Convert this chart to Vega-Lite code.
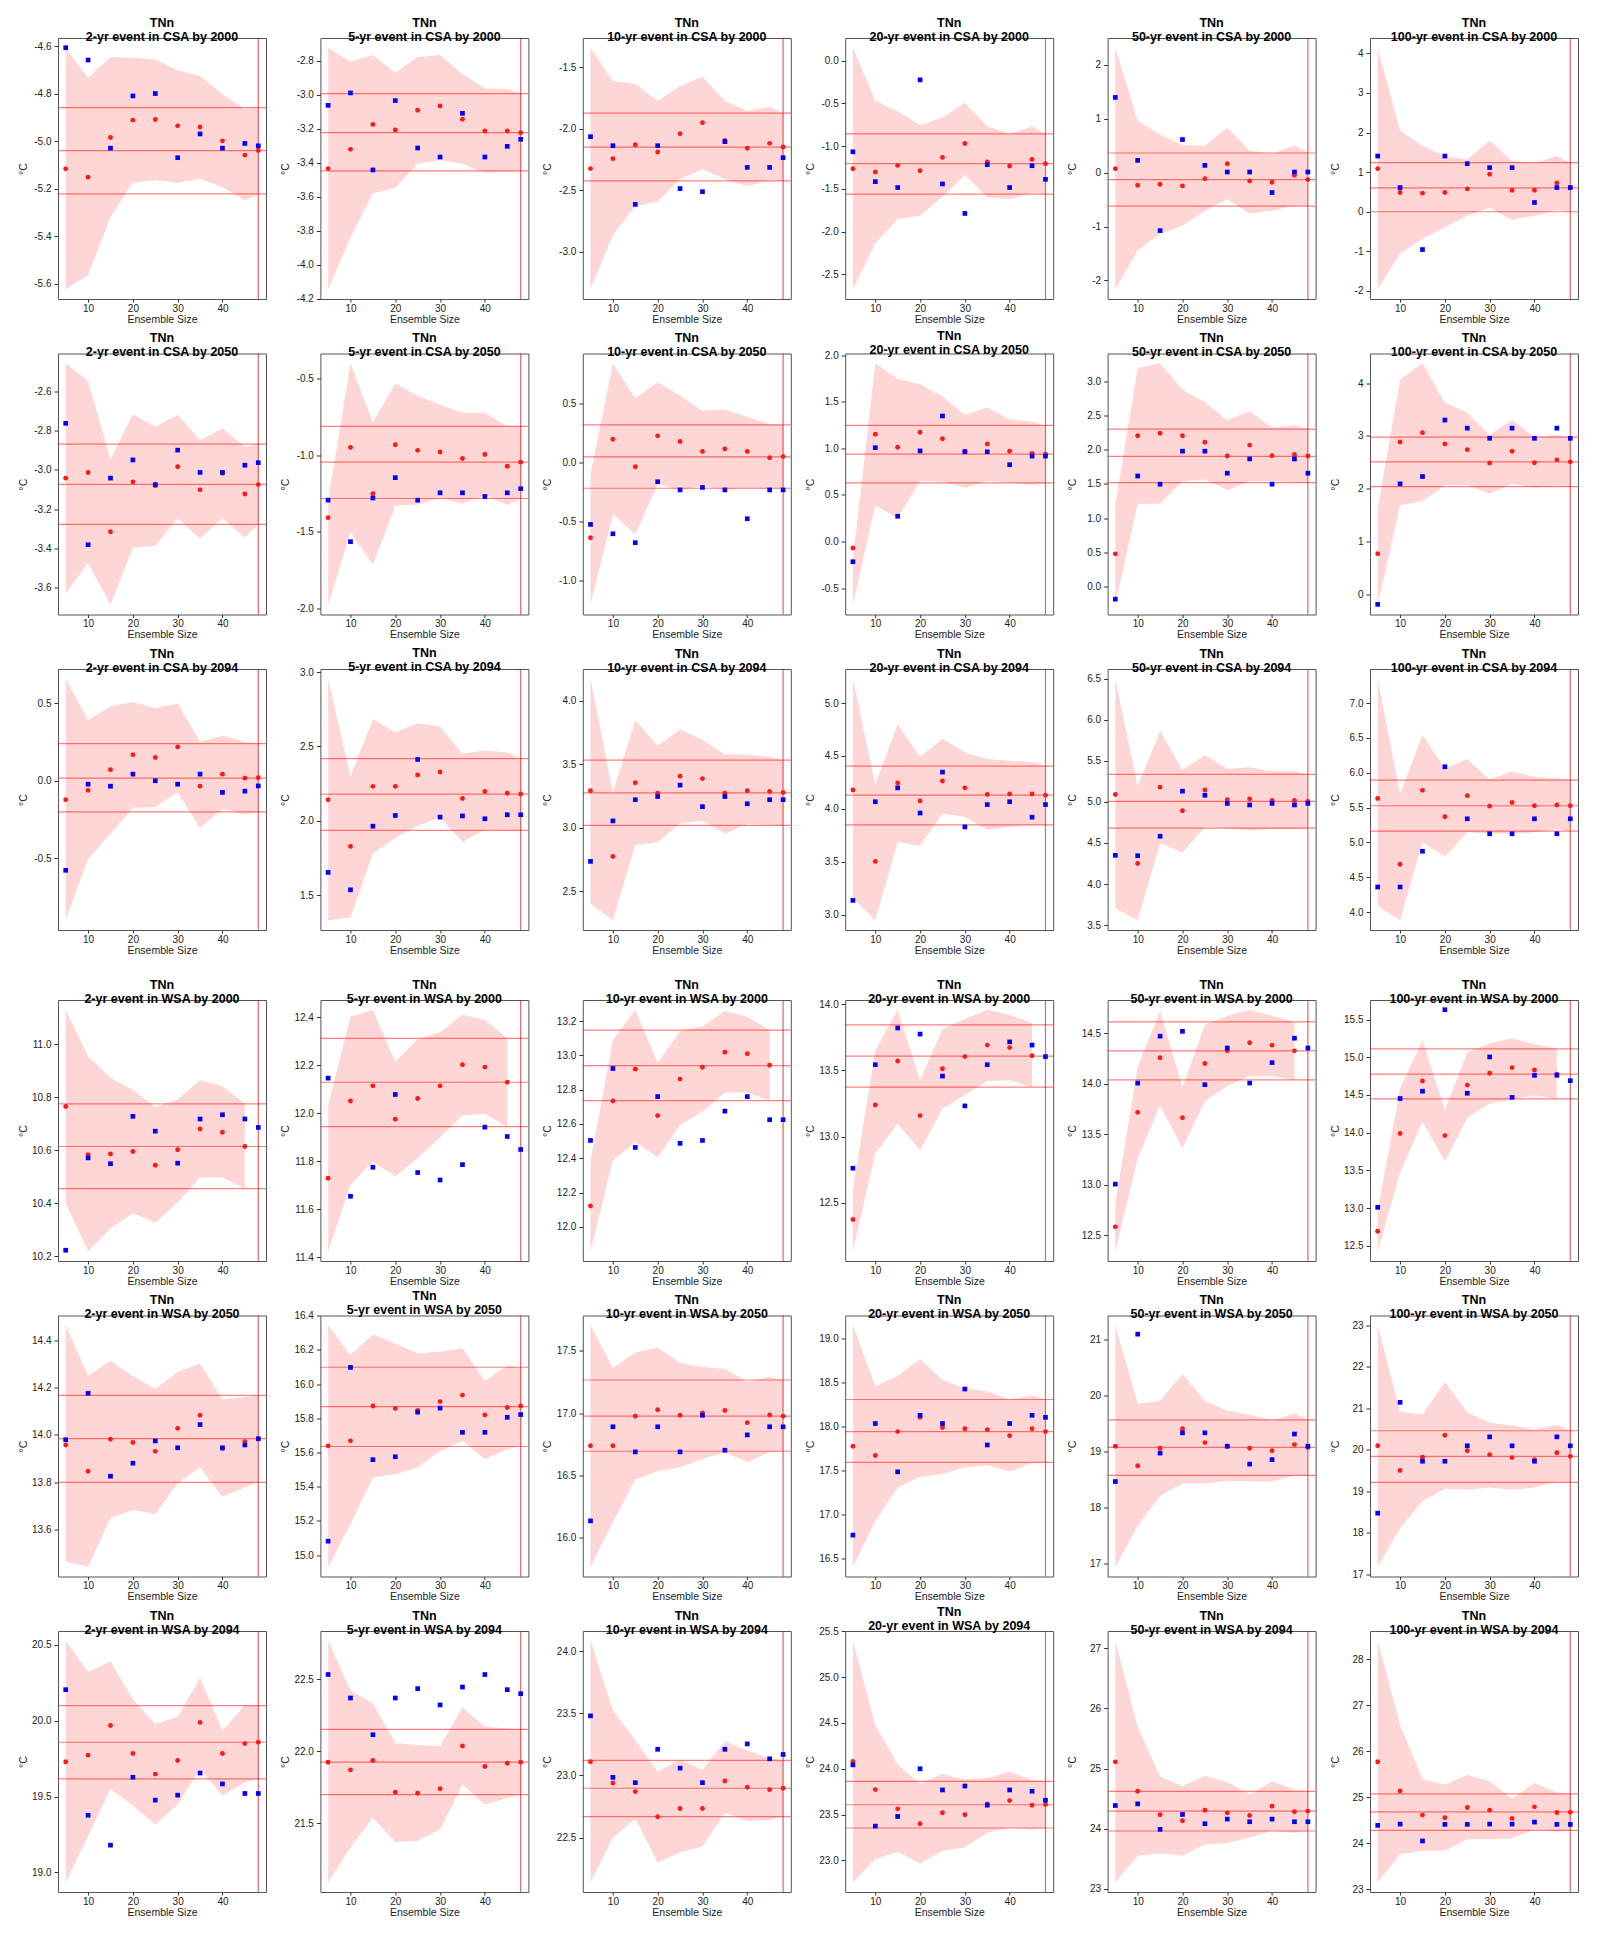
{
"$schema": "https://vega.github.io/schema/vega-lite/v6.json",
"background": "white",
"padding": {"left": 17, "top": 16, "right": 5, "bottom": 5},
"config": {
  "font": "Liberation Sans",
  "locale": {"number": {"decimal": ".", "thousands": ",", "grouping": [3], "currency": ["$", ""], "minus": "-"}},
  "view": {"stroke": "#555", "strokeWidth": 1},
  "axis": {"grid": false, "domain": false, "labelFont": "Liberation Sans", "labelFontSize": 10, "labelColor": "#222", "tickColor": "#333", "titleFont": "Liberation Sans", "titleFontSize": 10.5, "titleFontWeight": "normal", "titleColor": "#222"},
  "axisY": {"tickSize": 4, "labelPadding": 3, "minExtent": 30, "maxExtent": 30, "titlePadding": 0, "tickCount": 5.5},
  "axisX": {"tickSize": 3, "labelPadding": 1, "titlePadding": 1},
  "header": {"labelExpr": "['TNn', datum.value]", "labelFont": "Liberation Sans", "labelFontSize": 12.5, "labelFontWeight": "bold", "labelColor": "black", "labelLineHeight": 14, "labelBaseline": "top", "labelPadding": -6}
},
"datasets": {
"csa": [
{"t":"2-yr event in CSA by 2000","p":1,"x":5,"r":-5.117,"b":-4.607,"lo":-5.624,"hi":-4.61},
{"t":"2-yr event in CSA by 2000","p":1,"x":10,"r":-5.152,"b":-4.659,"lo":-5.565,"hi":-4.733},
{"t":"2-yr event in CSA by 2000","p":1,"x":15,"r":-4.985,"b":-5.03,"lo":-5.32,"hi":-4.646},
{"t":"2-yr event in CSA by 2000","p":1,"x":20,"r":-4.912,"b":-4.81,"lo":-5.175,"hi":-4.649},
{"t":"2-yr event in CSA by 2000","p":1,"x":25,"r":-4.909,"b":-4.80,"lo":-5.164,"hi":-4.656},
{"t":"2-yr event in CSA by 2000","p":1,"x":30,"r":-4.936,"b":-5.07,"lo":-5.175,"hi":-4.702},
{"t":"2-yr event in CSA by 2000","p":1,"x":35,"r":-4.941,"b":-4.97,"lo":-5.159,"hi":-4.726},
{"t":"2-yr event in CSA by 2000","p":1,"x":40,"r":-4.999,"b":-5.03,"lo":-5.194,"hi":-4.803},
{"t":"2-yr event in CSA by 2000","p":1,"x":45,"r":-5.059,"b":-5.01,"lo":-5.25,"hi":-4.866},
{"t":"2-yr event in CSA by 2000","p":1,"x":48,"r":-5.04,"b":-5.02,"lo":-5.222,"hi":-4.859},
{"t":"2-yr event in CSA by 2000","p":1,"hl":-5.222,"hm":-5.04,"hu":-4.859,"v":48},
{"t":"5-yr event in CSA by 2000","p":2,"x":5,"r":-3.433,"b":-3.061,"lo":-4.143,"hi":-2.722},
{"t":"5-yr event in CSA by 2000","p":2,"x":10,"r":-3.32,"b":-2.988,"lo":-3.839,"hi":-2.804},
{"t":"5-yr event in CSA by 2000","p":2,"x":15,"r":-3.173,"b":-3.441,"lo":-3.58,"hi":-2.765},
{"t":"5-yr event in CSA by 2000","p":2,"x":20,"r":-3.206,"b":-3.033,"lo":-3.545,"hi":-2.869},
{"t":"5-yr event in CSA by 2000","p":2,"x":25,"r":-3.09,"b":-3.312,"lo":-3.404,"hi":-2.776},
{"t":"5-yr event in CSA by 2000","p":2,"x":30,"r":-3.065,"b":-3.365,"lo":-3.384,"hi":-2.765},
{"t":"5-yr event in CSA by 2000","p":2,"x":35,"r":-3.143,"b":-3.108,"lo":-3.404,"hi":-2.878},
{"t":"5-yr event in CSA by 2000","p":2,"x":40,"r":-3.212,"b":-3.365,"lo":-3.457,"hi":-2.961},
{"t":"5-yr event in CSA by 2000","p":2,"x":45,"r":-3.212,"b":-3.302,"lo":-3.451,"hi":-2.967},
{"t":"5-yr event in CSA by 2000","p":2,"x":48,"r":-3.222,"b":-3.261,"lo":-3.447,"hi":-2.992},
{"t":"5-yr event in CSA by 2000","p":2,"hl":-3.447,"hm":-3.222,"hu":-2.992,"v":48},
{"t":"10-yr event in CSA by 2000","p":3,"x":5,"r":-2.324,"b":-2.065,"lo":-3.303,"hi":-1.343},
{"t":"10-yr event in CSA by 2000","p":3,"x":10,"r":-2.243,"b":-2.138,"lo":-2.862,"hi":-1.614},
{"t":"10-yr event in CSA by 2000","p":3,"x":15,"r":-2.13,"b":-2.614,"lo":-2.627,"hi":-1.635},
{"t":"10-yr event in CSA by 2000","p":3,"x":20,"r":-2.189,"b":-2.138,"lo":-2.592,"hi":-1.776},
{"t":"10-yr event in CSA by 2000","p":3,"x":25,"r":-2.041,"b":-2.486,"lo":-2.411,"hi":-1.654},
{"t":"10-yr event in CSA by 2000","p":3,"x":30,"r":-1.951,"b":-2.511,"lo":-2.33,"hi":-1.578},
{"t":"10-yr event in CSA by 2000","p":3,"x":35,"r":-2.095,"b":-2.105,"lo":-2.411,"hi":-1.776},
{"t":"10-yr event in CSA by 2000","p":3,"x":40,"r":-2.159,"b":-2.314,"lo":-2.465,"hi":-1.857},
{"t":"10-yr event in CSA by 2000","p":3,"x":45,"r":-2.119,"b":-2.314,"lo":-2.419,"hi":-1.822},
{"t":"10-yr event in CSA by 2000","p":3,"x":48,"r":-2.149,"b":-2.235,"lo":-2.424,"hi":-1.873},
{"t":"10-yr event in CSA by 2000","p":3,"hl":-2.424,"hm":-2.149,"hu":-1.873,"v":48},
{"t":"20-yr event in CSA by 2000","p":4,"x":5,"r":-1.264,"b":-1.066,"lo":-2.674,"hi":0.151},
{"t":"20-yr event in CSA by 2000","p":4,"x":10,"r":-1.302,"b":-1.415,"lo":-2.136,"hi":-0.469},
{"t":"20-yr event in CSA by 2000","p":4,"x":15,"r":-1.225,"b":-1.484,"lo":-1.853,"hi":-0.593},
{"t":"20-yr event in CSA by 2000","p":4,"x":20,"r":-1.287,"b":-0.225,"lo":-1.814,"hi":-0.756},
{"t":"20-yr event in CSA by 2000","p":4,"x":25,"r":-1.132,"b":-1.442,"lo":-1.593,"hi":-0.663},
{"t":"20-yr event in CSA by 2000","p":4,"x":30,"r":-0.969,"b":-1.787,"lo":-1.337,"hi":-0.496},
{"t":"20-yr event in CSA by 2000","p":4,"x":35,"r":-1.186,"b":-1.217,"lo":-1.601,"hi":-0.767},
{"t":"20-yr event in CSA by 2000","p":4,"x":40,"r":-1.233,"b":-1.484,"lo":-1.62,"hi":-0.857},
{"t":"20-yr event in CSA by 2000","p":4,"x":45,"r":-1.155,"b":-1.229,"lo":-1.543,"hi":-0.767},
{"t":"20-yr event in CSA by 2000","p":4,"x":48,"r":-1.205,"b":-1.388,"lo":-1.562,"hi":-0.857},
{"t":"20-yr event in CSA by 2000","p":4,"hl":-1.562,"hm":-1.205,"hu":-0.857,"v":48},
{"t":"50-yr event in CSA by 2000","p":5,"x":5,"r":0.074,"b":1.397,"lo":-2.166,"hi":2.32},
{"t":"50-yr event in CSA by 2000","p":5,"x":10,"r":-0.234,"b":0.228,"lo":-1.446,"hi":0.966},
{"t":"50-yr event in CSA by 2000","p":5,"x":15,"r":-0.215,"b":-1.077,"lo":-1.138,"hi":0.708},
{"t":"50-yr event in CSA by 2000","p":5,"x":20,"r":-0.246,"b":0.615,"lo":-0.985,"hi":0.511},
{"t":"50-yr event in CSA by 2000","p":5,"x":25,"r":-0.111,"b":0.135,"lo":-0.708,"hi":0.505},
{"t":"50-yr event in CSA by 2000","p":5,"x":30,"r":0.166,"b":0.012,"lo":-0.492,"hi":0.831},
{"t":"50-yr event in CSA by 2000","p":5,"x":35,"r":-0.154,"b":0.012,"lo":-0.757,"hi":0.412},
{"t":"50-yr event in CSA by 2000","p":5,"x":40,"r":-0.178,"b":-0.369,"lo":-0.708,"hi":0.351},
{"t":"50-yr event in CSA by 2000","p":5,"x":45,"r":-0.049,"b":0.012,"lo":-0.615,"hi":0.511},
{"t":"50-yr event in CSA by 2000","p":5,"x":48,"r":-0.129,"b":0.012,"lo":-0.615,"hi":0.369},
{"t":"50-yr event in CSA by 2000","p":5,"hl":-0.62,"hm":-0.129,"hu":0.365,"v":48},
{"t":"100-yr event in CSA by 2000","p":6,"x":5,"r":1.088,"b":1.406,"lo":-1.958,"hi":4.142},
{"t":"100-yr event in CSA by 2000","p":6,"x":10,"r":0.485,"b":0.611,"lo":-1.063,"hi":2.05},
{"t":"100-yr event in CSA by 2000","p":6,"x":15,"r":0.469,"b":-0.954,"lo":-0.686,"hi":1.657},
{"t":"100-yr event in CSA by 2000","p":6,"x":20,"r":0.485,"b":1.406,"lo":-0.393,"hi":1.406},
{"t":"100-yr event in CSA by 2000","p":6,"x":25,"r":0.577,"b":1.213,"lo":-0.1,"hi":1.322},
{"t":"100-yr event in CSA by 2000","p":6,"x":30,"r":0.946,"b":1.113,"lo":0.109,"hi":1.8},
{"t":"100-yr event in CSA by 2000","p":6,"x":35,"r":0.544,"b":1.113,"lo":-0.209,"hi":1.28},
{"t":"100-yr event in CSA by 2000","p":6,"x":40,"r":0.544,"b":0.234,"lo":-0.1,"hi":1.222},
{"t":"100-yr event in CSA by 2000","p":6,"x":45,"r":0.728,"b":0.611,"lo":0.042,"hi":1.406},
{"t":"100-yr event in CSA by 2000","p":6,"x":48,"r":0.605,"b":0.611,"lo":0.0,"hi":1.238},
{"t":"100-yr event in CSA by 2000","p":6,"hl":0.0,"hm":0.605,"hu":1.238,"v":48},
{"t":"2-yr event in CSA by 2050","p":7,"x":5,"r":-3.042,"b":-2.762,"lo":-3.631,"hi":-2.455},
{"t":"2-yr event in CSA by 2050","p":7,"x":10,"r":-3.013,"b":-3.382,"lo":-3.476,"hi":-2.546},
{"t":"2-yr event in CSA by 2050","p":7,"x":15,"r":-3.316,"b":-3.042,"lo":-3.689,"hi":-2.946},
{"t":"2-yr event in CSA by 2050","p":7,"x":20,"r":-3.061,"b":-2.949,"lo":-3.397,"hi":-2.716},
{"t":"2-yr event in CSA by 2050","p":7,"x":25,"r":-3.081,"b":-3.075,"lo":-3.388,"hi":-2.78},
{"t":"2-yr event in CSA by 2050","p":7,"x":30,"r":-2.984,"b":-2.899,"lo":-3.247,"hi":-2.718},
{"t":"2-yr event in CSA by 2050","p":7,"x":35,"r":-3.102,"b":-3.013,"lo":-3.351,"hi":-2.849},
{"t":"2-yr event in CSA by 2050","p":7,"x":40,"r":-3.017,"b":-3.013,"lo":-3.247,"hi":-2.787},
{"t":"2-yr event in CSA by 2050","p":7,"x":45,"r":-3.123,"b":-2.976,"lo":-3.345,"hi":-2.884},
{"t":"2-yr event in CSA by 2050","p":7,"x":48,"r":-3.075,"b":-2.963,"lo":-3.278,"hi":-2.868},
{"t":"2-yr event in CSA by 2050","p":7,"hl":-3.278,"hm":-3.074,"hu":-2.868,"v":48},
{"t":"5-yr event in CSA by 2050","p":8,"x":5,"r":-1.407,"b":-1.293,"lo":-1.976,"hi":-1.29},
{"t":"5-yr event in CSA by 2050","p":8,"x":10,"r":-0.949,"b":-1.564,"lo":-1.503,"hi":-0.399},
{"t":"5-yr event in CSA by 2050","p":8,"x":15,"r":-1.25,"b":-1.279,"lo":-1.715,"hi":-0.785},
{"t":"5-yr event in CSA by 2050","p":8,"x":20,"r":-0.931,"b":-1.146,"lo":-1.33,"hi":-0.532},
{"t":"5-yr event in CSA by 2050","p":8,"x":25,"r":-0.968,"b":-1.293,"lo":-1.322,"hi":-0.612},
{"t":"5-yr event in CSA by 2050","p":8,"x":30,"r":-0.979,"b":-1.245,"lo":-1.277,"hi":-0.67},
{"t":"5-yr event in CSA by 2050","p":8,"x":35,"r":-1.021,"b":-1.245,"lo":-1.316,"hi":-0.723},
{"t":"5-yr event in CSA by 2050","p":8,"x":40,"r":-0.995,"b":-1.269,"lo":-1.263,"hi":-0.723},
{"t":"5-yr event in CSA by 2050","p":8,"x":45,"r":-1.072,"b":-1.245,"lo":-1.324,"hi":-0.811},
{"t":"5-yr event in CSA by 2050","p":8,"x":48,"r":-1.045,"b":-1.218,"lo":-1.282,"hi":-0.811},
{"t":"5-yr event in CSA by 2050","p":8,"hl":-1.282,"hm":-1.045,"hu":-0.811,"v":48},
{"t":"10-yr event in CSA by 2050","p":9,"x":5,"r":-0.637,"b":-0.524,"lo":-1.202,"hi":-0.096},
{"t":"10-yr event in CSA by 2050","p":9,"x":10,"r":0.195,"b":-0.603,"lo":-0.438,"hi":0.836},
{"t":"10-yr event in CSA by 2050","p":9,"x":15,"r":-0.038,"b":-0.678,"lo":-0.61,"hi":0.538},
{"t":"10-yr event in CSA by 2050","p":9,"x":20,"r":0.223,"b":-0.164,"lo":-0.182,"hi":0.675},
{"t":"10-yr event in CSA by 2050","p":9,"x":25,"r":0.175,"b":-0.233,"lo":-0.233,"hi":0.562},
{"t":"10-yr event in CSA by 2050","p":9,"x":30,"r":0.092,"b":-0.212,"lo":-0.199,"hi":0.435},
{"t":"10-yr event in CSA by 2050","p":9,"x":35,"r":0.113,"b":-0.233,"lo":-0.233,"hi":0.445},
{"t":"10-yr event in CSA by 2050","p":9,"x":40,"r":0.092,"b":-0.476,"lo":-0.216,"hi":0.384},
{"t":"10-yr event in CSA by 2050","p":9,"x":45,"r":0.038,"b":-0.233,"lo":-0.226,"hi":0.322},
{"t":"10-yr event in CSA by 2050","p":9,"x":48,"r":0.048,"b":-0.233,"lo":-0.216,"hi":0.315},
{"t":"10-yr event in CSA by 2050","p":9,"hl":-0.219,"hm":0.045,"hu":0.315,"v":48},
{"t":"20-yr event in CSA by 2050","p":10,"x":5,"r":-0.069,"b":-0.217,"lo":-0.679,"hi":-0.186},
{"t":"20-yr event in CSA by 2050","p":10,"x":10,"r":1.151,"b":1.007,"lo":0.389,"hi":1.913},
{"t":"20-yr event in CSA by 2050","p":10,"x":15,"r":1.011,"b":0.271,"lo":0.249,"hi":1.743},
{"t":"20-yr event in CSA by 2050","p":10,"x":20,"r":1.172,"b":0.972,"lo":0.65,"hi":1.686},
{"t":"20-yr event in CSA by 2050","p":10,"x":25,"r":1.103,"b":1.347,"lo":0.641,"hi":1.556},
{"t":"20-yr event in CSA by 2050","p":10,"x":30,"r":0.968,"b":0.963,"lo":0.576,"hi":1.36},
{"t":"20-yr event in CSA by 2050","p":10,"x":35,"r":1.046,"b":0.963,"lo":0.65,"hi":1.438},
{"t":"20-yr event in CSA by 2050","p":10,"x":40,"r":0.968,"b":0.824,"lo":0.632,"hi":1.312},
{"t":"20-yr event in CSA by 2050","p":10,"x":45,"r":0.946,"b":0.916,"lo":0.606,"hi":1.286},
{"t":"20-yr event in CSA by 2050","p":10,"x":48,"r":0.937,"b":0.916,"lo":0.628,"hi":1.242},
{"t":"20-yr event in CSA by 2050","p":10,"hl":0.628,"hm":0.937,"hu":1.247,"v":48},
{"t":"50-yr event in CSA by 2050","p":11,"x":5,"r":0.481,"b":-0.179,"lo":-0.262,"hi":1.212},
{"t":"50-yr event in CSA by 2050","p":11,"x":10,"r":2.204,"b":1.616,"lo":1.212,"hi":3.19},
{"t":"50-yr event in CSA by 2050","p":11,"x":15,"r":2.239,"b":1.497,"lo":1.212,"hi":3.261},
{"t":"50-yr event in CSA by 2050","p":11,"x":20,"r":2.204,"b":1.978,"lo":1.538,"hi":2.875},
{"t":"50-yr event in CSA by 2050","p":11,"x":25,"r":2.109,"b":1.978,"lo":1.568,"hi":2.697},
{"t":"50-yr event in CSA by 2050","p":11,"x":30,"r":1.907,"b":1.657,"lo":1.408,"hi":2.43},
{"t":"50-yr event in CSA by 2050","p":11,"x":35,"r":2.067,"b":1.865,"lo":1.538,"hi":2.56},
{"t":"50-yr event in CSA by 2050","p":11,"x":40,"r":1.913,"b":1.497,"lo":1.538,"hi":2.323},
{"t":"50-yr event in CSA by 2050","p":11,"x":45,"r":1.93,"b":1.865,"lo":1.526,"hi":2.358},
{"t":"50-yr event in CSA by 2050","p":11,"x":48,"r":1.907,"b":1.657,"lo":1.52,"hi":2.299},
{"t":"50-yr event in CSA by 2050","p":11,"hl":1.52,"hm":1.903,"hu":2.299,"v":48},
{"t":"100-yr event in CSA by 2050","p":12,"x":5,"r":0.775,"b":-0.184,"lo":-0.192,"hi":1.635},
{"t":"100-yr event in CSA by 2050","p":12,"x":10,"r":2.887,"b":2.096,"lo":1.689,"hi":4.069},
{"t":"100-yr event in CSA by 2050","p":12,"x":15,"r":3.063,"b":2.234,"lo":1.766,"hi":4.376},
{"t":"100-yr event in CSA by 2050","p":12,"x":20,"r":2.848,"b":3.301,"lo":2.073,"hi":3.631},
{"t":"100-yr event in CSA by 2050","p":12,"x":25,"r":2.741,"b":3.148,"lo":2.073,"hi":3.44},
{"t":"100-yr event in CSA by 2050","p":12,"x":30,"r":2.488,"b":2.956,"lo":1.904,"hi":3.017},
{"t":"100-yr event in CSA by 2050","p":12,"x":35,"r":2.71,"b":3.148,"lo":2.096,"hi":3.301},
{"t":"100-yr event in CSA by 2050","p":12,"x":40,"r":2.495,"b":2.956,"lo":2.019,"hi":2.979},
{"t":"100-yr event in CSA by 2050","p":12,"x":45,"r":2.549,"b":3.148,"lo":2.058,"hi":3.017},
{"t":"100-yr event in CSA by 2050","p":12,"x":48,"r":2.511,"b":2.956,"lo":2.042,"hi":2.979},
{"t":"100-yr event in CSA by 2050","p":12,"hl":2.042,"hm":2.511,"hu":2.979,"v":48},
{"t":"2-yr event in CSA by 2094","p":13,"x":5,"r":-0.122,"b":-0.579,"lo":-0.902,"hi":0.66},
{"t":"2-yr event in CSA by 2094","p":13,"x":10,"r":-0.062,"b":-0.022,"lo":-0.508,"hi":0.392},
{"t":"2-yr event in CSA by 2094","p":13,"x":15,"r":0.072,"b":-0.035,"lo":-0.343,"hi":0.482},
{"t":"2-yr event in CSA by 2094","p":13,"x":20,"r":0.169,"b":0.043,"lo":-0.175,"hi":0.51},
{"t":"2-yr event in CSA by 2094","p":13,"x":25,"r":0.151,"b":0.0,"lo":-0.169,"hi":0.469},
{"t":"2-yr event in CSA by 2094","p":13,"x":30,"r":0.219,"b":-0.022,"lo":-0.075,"hi":0.5},
{"t":"2-yr event in CSA by 2094","p":13,"x":35,"r":-0.035,"b":0.043,"lo":-0.306,"hi":0.253},
{"t":"2-yr event in CSA by 2094","p":13,"x":40,"r":0.043,"b":-0.075,"lo":-0.18,"hi":0.293},
{"t":"2-yr event in CSA by 2094","p":13,"x":45,"r":0.017,"b":-0.067,"lo":-0.219,"hi":0.253},
{"t":"2-yr event in CSA by 2094","p":13,"x":48,"r":0.02,"b":-0.033,"lo":-0.201,"hi":0.24},
{"t":"2-yr event in CSA by 2094","p":13,"hl":-0.201,"hm":0.017,"hu":0.24,"v":48},
{"t":"5-yr event in CSA by 2094","p":14,"x":5,"r":2.142,"b":1.653,"lo":1.331,"hi":2.956},
{"t":"5-yr event in CSA by 2094","p":14,"x":10,"r":1.828,"b":1.536,"lo":1.35,"hi":2.3},
{"t":"5-yr event in CSA by 2094","p":14,"x":15,"r":2.232,"b":1.964,"lo":1.781,"hi":2.683},
{"t":"5-yr event in CSA by 2094","p":14,"x":20,"r":2.232,"b":2.036,"lo":1.885,"hi":2.596},
{"t":"5-yr event in CSA by 2094","p":14,"x":25,"r":2.309,"b":2.413,"lo":1.967,"hi":2.656},
{"t":"5-yr event in CSA by 2094","p":14,"x":30,"r":2.328,"b":2.025,"lo":2.022,"hi":2.634},
{"t":"5-yr event in CSA by 2094","p":14,"x":35,"r":2.15,"b":2.033,"lo":1.858,"hi":2.451},
{"t":"5-yr event in CSA by 2094","p":14,"x":40,"r":2.197,"b":2.014,"lo":1.94,"hi":2.473},
{"t":"5-yr event in CSA by 2094","p":14,"x":45,"r":2.186,"b":2.041,"lo":1.932,"hi":2.459},
{"t":"5-yr event in CSA by 2094","p":14,"x":48,"r":2.18,"b":2.041,"lo":1.935,"hi":2.418},
{"t":"5-yr event in CSA by 2094","p":14,"hl":1.936,"hm":2.18,"hu":2.418,"v":48},
{"t":"10-yr event in CSA by 2094","p":15,"x":5,"r":3.29,"b":2.734,"lo":2.398,"hi":4.173},
{"t":"10-yr event in CSA by 2094","p":15,"x":10,"r":2.772,"b":3.053,"lo":2.27,"hi":3.277},
{"t":"10-yr event in CSA by 2094","p":15,"x":15,"r":3.354,"b":3.22,"lo":2.862,"hi":3.846},
{"t":"10-yr event in CSA by 2094","p":15,"x":20,"r":3.271,"b":3.245,"lo":2.884,"hi":3.645},
{"t":"10-yr event in CSA by 2094","p":15,"x":25,"r":3.405,"b":3.335,"lo":3.037,"hi":3.773},
{"t":"10-yr event in CSA by 2094","p":15,"x":30,"r":3.386,"b":3.165,"lo":3.053,"hi":3.693},
{"t":"10-yr event in CSA by 2094","p":15,"x":35,"r":3.271,"b":3.245,"lo":2.951,"hi":3.575},
{"t":"10-yr event in CSA by 2094","p":15,"x":40,"r":3.29,"b":3.188,"lo":3.028,"hi":3.575},
{"t":"10-yr event in CSA by 2094","p":15,"x":45,"r":3.284,"b":3.22,"lo":3.021,"hi":3.559},
{"t":"10-yr event in CSA by 2094","p":15,"x":48,"r":3.277,"b":3.22,"lo":3.017,"hi":3.532},
{"t":"10-yr event in CSA by 2094","p":15,"hl":3.017,"hm":3.274,"hu":3.532,"v":48},
{"t":"20-yr event in CSA by 2094","p":16,"x":5,"r":4.178,"b":3.134,"lo":3.157,"hi":5.23},
{"t":"20-yr event in CSA by 2094","p":16,"x":10,"r":3.503,"b":4.067,"lo":2.946,"hi":4.232},
{"t":"20-yr event in CSA by 2094","p":16,"x":15,"r":4.244,"b":4.198,"lo":3.687,"hi":4.8},
{"t":"20-yr event in CSA by 2094","p":16,"x":20,"r":4.075,"b":3.96,"lo":3.649,"hi":4.493},
{"t":"20-yr event in CSA by 2094","p":16,"x":25,"r":4.263,"b":4.347,"lo":3.956,"hi":4.662},
{"t":"20-yr event in CSA by 2094","p":16,"x":30,"r":4.198,"b":3.829,"lo":3.925,"hi":4.532},
{"t":"20-yr event in CSA by 2094","p":16,"x":35,"r":4.136,"b":4.04,"lo":3.802,"hi":4.47},
{"t":"20-yr event in CSA by 2094","p":16,"x":40,"r":4.14,"b":4.067,"lo":3.829,"hi":4.455},
{"t":"20-yr event in CSA by 2094","p":16,"x":45,"r":4.14,"b":3.921,"lo":3.848,"hi":4.443},
{"t":"20-yr event in CSA by 2094","p":16,"x":48,"r":4.129,"b":4.04,"lo":3.848,"hi":4.403},
{"t":"20-yr event in CSA by 2094","p":16,"hl":3.848,"hm":4.129,"hu":4.403,"v":48},
{"t":"50-yr event in CSA by 2094","p":17,"x":5,"r":5.091,"b":4.35,"lo":3.707,"hi":6.5},
{"t":"50-yr event in CSA by 2094","p":17,"x":10,"r":4.251,"b":4.345,"lo":3.559,"hi":5.19},
{"t":"50-yr event in CSA by 2094","p":17,"x":15,"r":5.18,"b":4.582,"lo":4.498,"hi":5.867},
{"t":"50-yr event in CSA by 2094","p":17,"x":20,"r":4.893,"b":5.131,"lo":4.384,"hi":5.388},
{"t":"50-yr event in CSA by 2094","p":17,"x":25,"r":5.146,"b":5.081,"lo":4.696,"hi":5.571},
{"t":"50-yr event in CSA by 2094","p":17,"x":30,"r":5.027,"b":4.982,"lo":4.681,"hi":5.403},
{"t":"50-yr event in CSA by 2094","p":17,"x":35,"r":5.037,"b":4.963,"lo":4.651,"hi":5.422},
{"t":"50-yr event in CSA by 2094","p":17,"x":40,"r":5.017,"b":4.982,"lo":4.671,"hi":5.373},
{"t":"50-yr event in CSA by 2094","p":17,"x":45,"r":5.017,"b":4.963,"lo":4.671,"hi":5.373},
{"t":"50-yr event in CSA by 2094","p":17,"x":48,"r":5.007,"b":4.982,"lo":4.681,"hi":5.335},
{"t":"50-yr event in CSA by 2094","p":17,"hl":4.681,"hm":5.007,"hu":5.335,"v":48},
{"t":"100-yr event in CSA by 2094","p":18,"x":5,"r":5.631,"b":4.362,"lo":4.088,"hi":7.349},
{"t":"100-yr event in CSA by 2094","p":18,"x":10,"r":4.688,"b":4.362,"lo":3.884,"hi":5.69},
{"t":"100-yr event in CSA by 2094","p":18,"x":15,"r":5.748,"b":4.874,"lo":5.002,"hi":6.546},
{"t":"100-yr event in CSA by 2094","p":18,"x":20,"r":5.369,"b":6.086,"lo":4.798,"hi":6.057},
{"t":"100-yr event in CSA by 2094","p":18,"x":25,"r":5.672,"b":5.34,"lo":5.148,"hi":6.196},
{"t":"100-yr event in CSA by 2094","p":18,"x":30,"r":5.521,"b":5.125,"lo":5.125,"hi":5.905},
{"t":"100-yr event in CSA by 2094","p":18,"x":35,"r":5.573,"b":5.125,"lo":5.125,"hi":6.022},
{"t":"100-yr event in CSA by 2094","p":18,"x":40,"r":5.527,"b":5.34,"lo":5.148,"hi":5.94},
{"t":"100-yr event in CSA by 2094","p":18,"x":45,"r":5.538,"b":5.125,"lo":5.195,"hi":5.923},
{"t":"100-yr event in CSA by 2094","p":18,"x":48,"r":5.527,"b":5.34,"lo":5.163,"hi":5.893},
{"t":"100-yr event in CSA by 2094","p":18,"hl":5.163,"hm":5.527,"hu":5.893,"v":48}
],
"wsa": [
{"t":"2-yr event in WSA by 2000","p":19,"x":5,"r":10.765,"b":10.222,"lo":10.4,"hi":11.131},
{"t":"2-yr event in WSA by 2000","p":19,"x":10,"r":10.583,"b":10.571,"lo":10.218,"hi":10.954},
{"t":"2-yr event in WSA by 2000","p":19,"x":15,"r":10.586,"b":10.549,"lo":10.305,"hi":10.874},
{"t":"2-yr event in WSA by 2000","p":19,"x":20,"r":10.595,"b":10.728,"lo":10.362,"hi":10.828},
{"t":"2-yr event in WSA by 2000","p":19,"x":25,"r":10.543,"b":10.672,"lo":10.326,"hi":10.762},
{"t":"2-yr event in WSA by 2000","p":19,"x":30,"r":10.602,"b":10.551,"lo":10.403,"hi":10.792},
{"t":"2-yr event in WSA by 2000","p":19,"x":35,"r":10.68,"b":10.718,"lo":10.497,"hi":10.865},
{"t":"2-yr event in WSA by 2000","p":19,"x":40,"r":10.668,"b":10.734,"lo":10.497,"hi":10.842},
{"t":"2-yr event in WSA by 2000","p":19,"x":45,"r":10.614,"b":10.718,"lo":10.454,"hi":10.777},
{"t":"2-yr event in WSA by 2000","p":19,"x":48,"b":10.686},
{"t":"2-yr event in WSA by 2000","p":19,"hl":10.455,"hm":10.614,"hu":10.775,"v":48},
{"t":"5-yr event in WSA by 2000","p":20,"x":5,"r":11.729,"b":12.146,"lo":11.425,"hi":12.032},
{"t":"5-yr event in WSA by 2000","p":20,"x":10,"r":12.051,"b":11.654,"lo":11.702,"hi":12.402},
{"t":"5-yr event in WSA by 2000","p":20,"x":15,"r":12.114,"b":11.775,"lo":11.798,"hi":12.431},
{"t":"5-yr event in WSA by 2000","p":20,"x":20,"r":11.975,"b":12.078,"lo":11.736,"hi":12.214},
{"t":"5-yr event in WSA by 2000","p":20,"x":25,"r":12.061,"b":11.753,"lo":11.812,"hi":12.308},
{"t":"5-yr event in WSA by 2000","p":20,"x":30,"r":12.114,"b":11.722,"lo":11.9,"hi":12.337},
{"t":"5-yr event in WSA by 2000","p":20,"x":35,"r":12.202,"b":11.786,"lo":11.99,"hi":12.41},
{"t":"5-yr event in WSA by 2000","p":20,"x":40,"r":12.192,"b":11.942,"lo":11.998,"hi":12.388},
{"t":"5-yr event in WSA by 2000","p":20,"x":45,"r":12.129,"b":11.903,"lo":11.944,"hi":12.312},
{"t":"5-yr event in WSA by 2000","p":20,"x":48,"b":11.849},
{"t":"5-yr event in WSA by 2000","p":20,"hl":11.944,"hm":12.129,"hu":12.312,"v":48},
{"t":"10-yr event in WSA by 2000","p":21,"x":5,"r":12.121,"b":12.504,"lo":11.857,"hi":12.387},
{"t":"10-yr event in WSA by 2000","p":21,"x":10,"r":12.734,"b":12.924,"lo":12.387,"hi":13.088},
{"t":"10-yr event in WSA by 2000","p":21,"x":15,"r":12.92,"b":12.463,"lo":12.494,"hi":13.267},
{"t":"10-yr event in WSA by 2000","p":21,"x":20,"r":12.649,"b":12.76,"lo":12.404,"hi":12.958},
{"t":"10-yr event in WSA by 2000","p":21,"x":25,"r":12.862,"b":12.487,"lo":12.594,"hi":13.141},
{"t":"10-yr event in WSA by 2000","p":21,"x":30,"r":12.931,"b":12.504,"lo":12.672,"hi":13.171},
{"t":"10-yr event in WSA by 2000","p":21,"x":35,"r":13.019,"b":12.675,"lo":12.784,"hi":13.259},
{"t":"10-yr event in WSA by 2000","p":21,"x":40,"r":13.01,"b":12.76,"lo":12.784,"hi":13.226},
{"t":"10-yr event in WSA by 2000","p":21,"x":45,"r":12.943,"b":12.625,"lo":12.736,"hi":13.148},
{"t":"10-yr event in WSA by 2000","p":21,"x":48,"b":12.625},
{"t":"10-yr event in WSA by 2000","p":21,"hl":12.736,"hm":12.941,"hu":13.148,"v":48},
{"t":"20-yr event in WSA by 2000","p":22,"x":5,"r":12.374,"b":12.761,"lo":12.134,"hi":12.604},
{"t":"20-yr event in WSA by 2000","p":22,"x":10,"r":13.238,"b":13.542,"lo":12.872,"hi":13.65},
{"t":"20-yr event in WSA by 2000","p":22,"x":15,"r":13.57,"b":13.819,"lo":13.096,"hi":13.957},
{"t":"20-yr event in WSA by 2000","p":22,"x":20,"r":13.158,"b":13.773,"lo":12.896,"hi":13.425},
{"t":"20-yr event in WSA by 2000","p":22,"x":25,"r":13.511,"b":13.456,"lo":13.21,"hi":13.812},
{"t":"20-yr event in WSA by 2000","p":22,"x":30,"r":13.603,"b":13.231,"lo":13.311,"hi":13.886},
{"t":"20-yr event in WSA by 2000","p":22,"x":35,"r":13.69,"b":13.542,"lo":13.419,"hi":13.957},
{"t":"20-yr event in WSA by 2000","p":22,"x":40,"r":13.671,"b":13.714,"lo":13.425,"hi":13.917},
{"t":"20-yr event in WSA by 2000","p":22,"x":45,"r":13.61,"b":13.69,"lo":13.373,"hi":13.859},
{"t":"20-yr event in WSA by 2000","p":22,"x":48,"b":13.603},
{"t":"20-yr event in WSA by 2000","p":22,"hl":13.373,"hm":13.607,"hu":13.843,"v":48},
{"t":"50-yr event in WSA by 2000","p":23,"x":5,"r":12.585,"b":13.008,"lo":12.343,"hi":12.819},
{"t":"50-yr event in WSA by 2000","p":23,"x":10,"r":13.718,"b":14.008,"lo":13.262,"hi":14.169},
{"t":"50-yr event in WSA by 2000","p":23,"x":15,"r":14.258,"b":14.472,"lo":13.786,"hi":14.722},
{"t":"50-yr event in WSA by 2000","p":23,"x":20,"r":13.665,"b":14.52,"lo":13.363,"hi":13.968},
{"t":"50-yr event in WSA by 2000","p":23,"x":25,"r":14.202,"b":13.992,"lo":13.827,"hi":14.585},
{"t":"50-yr event in WSA by 2000","p":23,"x":30,"r":14.327,"b":14.355,"lo":13.98,"hi":14.673},
{"t":"50-yr event in WSA by 2000","p":23,"x":35,"r":14.407,"b":14.008,"lo":14.077,"hi":14.734},
{"t":"50-yr event in WSA by 2000","p":23,"x":40,"r":14.383,"b":14.21,"lo":14.077,"hi":14.673},
{"t":"50-yr event in WSA by 2000","p":23,"x":45,"r":14.327,"b":14.452,"lo":14.036,"hi":14.613},
{"t":"50-yr event in WSA by 2000","p":23,"x":48,"b":14.355},
{"t":"50-yr event in WSA by 2000","p":23,"hl":14.04,"hm":14.327,"hu":14.613,"v":48},
{"t":"100-yr event in WSA by 2000","p":24,"x":5,"r":12.694,"b":13.012,"lo":12.429,"hi":12.969},
{"t":"100-yr event in WSA by 2000","p":24,"x":10,"r":13.989,"b":14.453,"lo":13.471,"hi":14.588},
{"t":"100-yr event in WSA by 2000","p":24,"x":15,"r":14.685,"b":14.55,"lo":14.145,"hi":15.225},
{"t":"100-yr event in WSA by 2000","p":24,"x":20,"r":13.962,"b":15.63,"lo":13.622,"hi":14.307},
{"t":"100-yr event in WSA by 2000","p":24,"x":25,"r":14.631,"b":14.523,"lo":14.199,"hi":15.063},
{"t":"100-yr event in WSA by 2000","p":24,"x":30,"r":14.788,"b":15.004,"lo":14.388,"hi":15.187},
{"t":"100-yr event in WSA by 2000","p":24,"x":35,"r":14.863,"b":14.469,"lo":14.442,"hi":15.252},
{"t":"100-yr event in WSA by 2000","p":24,"x":40,"r":14.831,"b":14.761,"lo":14.496,"hi":15.171},
{"t":"100-yr event in WSA by 2000","p":24,"x":45,"r":14.777,"b":14.761,"lo":14.448,"hi":15.111},
{"t":"100-yr event in WSA by 2000","p":24,"x":48,"b":14.69},
{"t":"100-yr event in WSA by 2000","p":24,"hl":14.448,"hm":14.777,"hu":15.111,"v":48},
{"t":"2-yr event in WSA by 2050","p":25,"x":5,"r":13.958,"b":13.98,"lo":13.465,"hi":14.463},
{"t":"2-yr event in WSA by 2050","p":25,"x":10,"r":13.847,"b":14.176,"lo":13.444,"hi":14.249},
{"t":"2-yr event in WSA by 2050","p":25,"x":15,"r":13.982,"b":13.826,"lo":13.65,"hi":14.314},
{"t":"2-yr event in WSA by 2050","p":25,"x":20,"r":13.968,"b":13.881,"lo":13.684,"hi":14.249},
{"t":"2-yr event in WSA by 2050","p":25,"x":25,"r":13.931,"b":13.975,"lo":13.667,"hi":14.194},
{"t":"2-yr event in WSA by 2050","p":25,"x":30,"r":14.028,"b":13.946,"lo":13.795,"hi":14.266},
{"t":"2-yr event in WSA by 2050","p":25,"x":35,"r":14.083,"b":14.044,"lo":13.864,"hi":14.301},
{"t":"2-yr event in WSA by 2050","p":25,"x":40,"r":13.943,"b":13.946,"lo":13.739,"hi":14.15},
{"t":"2-yr event in WSA by 2050","p":25,"x":45,"r":13.972,"b":13.958,"lo":13.778,"hi":14.16},
{"t":"2-yr event in WSA by 2050","p":25,"x":48,"r":13.984,"b":13.984,"lo":13.804,"hi":14.167},
{"t":"2-yr event in WSA by 2050","p":25,"hl":13.8,"hm":13.985,"hu":14.167,"v":48},
{"t":"5-yr event in WSA by 2050","p":26,"x":5,"r":15.639,"b":15.081,"lo":14.931,"hi":16.345},
{"t":"5-yr event in WSA by 2050","p":26,"x":10,"r":15.668,"b":16.098,"lo":15.18,"hi":16.171},
{"t":"5-yr event in WSA by 2050","p":26,"x":15,"r":15.872,"b":15.558,"lo":15.454,"hi":16.29},
{"t":"5-yr event in WSA by 2050","p":26,"x":20,"r":15.858,"b":15.575,"lo":15.473,"hi":16.238},
{"t":"5-yr event in WSA by 2050","p":26,"x":25,"r":15.846,"b":15.836,"lo":15.513,"hi":16.181},
{"t":"5-yr event in WSA by 2050","p":26,"x":30,"r":15.898,"b":15.86,"lo":15.608,"hi":16.19},
{"t":"5-yr event in WSA by 2050","p":26,"x":35,"r":15.936,"b":15.718,"lo":15.668,"hi":16.21},
{"t":"5-yr event in WSA by 2050","p":26,"x":40,"r":15.82,"b":15.718,"lo":15.561,"hi":16.019},
{"t":"5-yr event in WSA by 2050","p":26,"x":45,"r":15.863,"b":15.806,"lo":15.62,"hi":16.107},
{"t":"5-yr event in WSA by 2050","p":26,"x":48,"r":15.872,"b":15.822,"lo":15.636,"hi":16.098},
{"t":"5-yr event in WSA by 2050","p":26,"hl":15.635,"hm":15.868,"hu":16.099,"v":48},
{"t":"10-yr event in WSA by 2050","p":27,"x":5,"r":16.739,"b":16.137,"lo":15.769,"hi":17.705},
{"t":"10-yr event in WSA by 2050","p":27,"x":10,"r":16.739,"b":16.891,"lo":16.127,"hi":17.363},
{"t":"10-yr event in WSA by 2050","p":27,"x":15,"r":16.976,"b":16.69,"lo":16.468,"hi":17.487},
{"t":"10-yr event in WSA by 2050","p":27,"x":20,"r":17.028,"b":16.891,"lo":16.534,"hi":17.526},
{"t":"10-yr event in WSA by 2050","p":27,"x":25,"r":16.983,"b":16.69,"lo":16.566,"hi":17.402},
{"t":"10-yr event in WSA by 2050","p":27,"x":30,"r":17.002,"b":16.983,"lo":16.631,"hi":17.37},
{"t":"10-yr event in WSA by 2050","p":27,"x":35,"r":17.022,"b":16.703,"lo":16.686,"hi":17.357},
{"t":"10-yr event in WSA by 2050","p":27,"x":40,"r":16.924,"b":16.826,"lo":16.608,"hi":17.249},
{"t":"10-yr event in WSA by 2050","p":27,"x":45,"r":16.986,"b":16.891,"lo":16.686,"hi":17.292},
{"t":"10-yr event in WSA by 2050","p":27,"x":48,"r":16.976,"b":16.891,"lo":16.695,"hi":17.266},
{"t":"10-yr event in WSA by 2050","p":27,"hl":16.695,"hm":16.976,"hu":17.266,"v":48},
{"t":"20-yr event in WSA by 2050","p":28,"x":5,"r":17.773,"b":16.763,"lo":16.403,"hi":19.148},
{"t":"20-yr event in WSA by 2050","p":28,"x":10,"r":17.667,"b":18.031,"lo":16.92,"hi":18.456},
{"t":"20-yr event in WSA by 2050","p":28,"x":15,"r":17.939,"b":17.482,"lo":17.303,"hi":18.571},
{"t":"20-yr event in WSA by 2050","p":28,"x":20,"r":18.101,"b":18.124,"lo":17.427,"hi":18.765},
{"t":"20-yr event in WSA by 2050","p":28,"x":25,"r":17.985,"b":18.031,"lo":17.455,"hi":18.525},
{"t":"20-yr event in WSA by 2050","p":28,"x":30,"r":17.971,"b":18.423,"lo":17.533,"hi":18.433},
{"t":"20-yr event in WSA by 2050","p":28,"x":35,"r":17.962,"b":17.787,"lo":17.556,"hi":18.396},
{"t":"20-yr event in WSA by 2050","p":28,"x":40,"r":17.893,"b":18.031,"lo":17.487,"hi":18.304},
{"t":"20-yr event in WSA by 2050","p":28,"x":45,"r":17.971,"b":18.124,"lo":17.579,"hi":18.35},
{"t":"20-yr event in WSA by 2050","p":28,"x":48,"r":17.939,"b":18.101,"lo":17.59,"hi":18.304},
{"t":"20-yr event in WSA by 2050","p":28,"hl":17.59,"hm":17.939,"hu":18.304,"v":48},
{"t":"50-yr event in WSA by 2050","p":29,"x":5,"r":19.094,"b":18.464,"lo":16.942,"hi":21.254},
{"t":"50-yr event in WSA by 2050","p":29,"x":10,"r":18.746,"b":21.094,"lo":17.667,"hi":19.855},
{"t":"50-yr event in WSA by 2050","p":29,"x":15,"r":19.058,"b":18.971,"lo":18.21,"hi":19.899},
{"t":"50-yr event in WSA by 2050","p":29,"x":20,"r":19.406,"b":19.333,"lo":18.428,"hi":20.384},
{"t":"50-yr event in WSA by 2050","p":29,"x":25,"r":19.159,"b":19.333,"lo":18.428,"hi":19.899},
{"t":"50-yr event in WSA by 2050","p":29,"x":30,"r":19.094,"b":19.094,"lo":18.478,"hi":19.732},
{"t":"50-yr event in WSA by 2050","p":29,"x":35,"r":19.058,"b":18.775,"lo":18.464,"hi":19.659},
{"t":"50-yr event in WSA by 2050","p":29,"x":40,"r":19.014,"b":18.855,"lo":18.464,"hi":19.551},
{"t":"50-yr event in WSA by 2050","p":29,"x":45,"r":19.123,"b":19.312,"lo":18.572,"hi":19.681},
{"t":"50-yr event in WSA by 2050","p":29,"x":48,"r":19.072,"b":19.094,"lo":18.572,"hi":19.565},
{"t":"50-yr event in WSA by 2050","p":29,"hl":18.572,"hm":19.072,"hu":19.565,"v":48},
{"t":"100-yr event in WSA by 2050","p":30,"x":5,"r":20.094,"b":18.47,"lo":17.178,"hi":23.0},
{"t":"100-yr event in WSA by 2050","p":30,"x":10,"r":19.497,"b":21.141,"lo":18.108,"hi":20.916},
{"t":"100-yr event in WSA by 2050","p":30,"x":15,"r":19.82,"b":19.722,"lo":18.763,"hi":20.847},
{"t":"100-yr event in WSA by 2050","p":30,"x":20,"r":20.348,"b":19.722,"lo":19.057,"hi":21.63},
{"t":"100-yr event in WSA by 2050","p":30,"x":25,"r":19.976,"b":20.094,"lo":19.037,"hi":20.896},
{"t":"100-yr event in WSA by 2050","p":30,"x":30,"r":19.879,"b":20.309,"lo":19.086,"hi":20.652},
{"t":"100-yr event in WSA by 2050","p":30,"x":35,"r":19.81,"b":20.094,"lo":19.037,"hi":20.583},
{"t":"100-yr event in WSA by 2050","p":30,"x":40,"r":19.761,"b":19.722,"lo":19.086,"hi":20.485},
{"t":"100-yr event in WSA by 2050","p":30,"x":45,"r":19.928,"b":20.309,"lo":19.233,"hi":20.603},
{"t":"100-yr event in WSA by 2050","p":30,"x":48,"r":19.84,"b":20.094,"lo":19.213,"hi":20.456},
{"t":"100-yr event in WSA by 2050","p":30,"hl":19.213,"hm":19.84,"hu":20.456,"v":48},
{"t":"2-yr event in WSA by 2094","p":31,"x":5,"r":19.729,"b":20.205,"lo":18.934,"hi":20.528},
{"t":"2-yr event in WSA by 2094","p":31,"x":10,"r":19.773,"b":19.376,"lo":19.24,"hi":20.321},
{"t":"2-yr event in WSA by 2094","p":31,"x":15,"r":19.969,"b":19.179,"lo":19.55,"hi":20.393},
{"t":"2-yr event in WSA by 2094","p":31,"x":20,"r":19.784,"b":19.627,"lo":19.441,"hi":20.14},
{"t":"2-yr event in WSA by 2094","p":31,"x":25,"r":19.648,"b":19.476,"lo":19.316,"hi":19.978},
{"t":"2-yr event in WSA by 2094","p":31,"x":30,"r":19.738,"b":19.509,"lo":19.448,"hi":20.026},
{"t":"2-yr event in WSA by 2094","p":31,"x":35,"r":19.989,"b":19.655,"lo":19.681,"hi":20.284},
{"t":"2-yr event in WSA by 2094","p":31,"x":40,"r":19.784,"b":19.583,"lo":19.507,"hi":19.934},
{"t":"2-yr event in WSA by 2094","p":31,"x":45,"r":19.849,"b":19.52,"lo":19.594,"hi":20.103},
{"t":"2-yr event in WSA by 2094","p":31,"x":48,"r":19.858,"b":19.52,"lo":19.616,"hi":20.1},
{"t":"2-yr event in WSA by 2094","p":31,"hl":19.616,"hm":19.858,"hu":20.1,"v":48},
{"t":"5-yr event in WSA by 2094","p":32,"x":5,"r":21.925,"b":22.534,"lo":21.091,"hi":22.769},
{"t":"5-yr event in WSA by 2094","p":32,"x":10,"r":21.872,"b":22.371,"lo":21.332,"hi":22.424},
{"t":"5-yr event in WSA by 2094","p":32,"x":15,"r":21.937,"b":22.116,"lo":21.539,"hi":22.332},
{"t":"5-yr event in WSA by 2094","p":32,"x":20,"r":21.716,"b":22.371,"lo":21.371,"hi":22.056},
{"t":"5-yr event in WSA by 2094","p":32,"x":25,"r":21.709,"b":22.436,"lo":21.378,"hi":22.045},
{"t":"5-yr event in WSA by 2094","p":32,"x":30,"r":21.741,"b":22.323,"lo":21.459,"hi":22.038},
{"t":"5-yr event in WSA by 2094","p":32,"x":35,"r":22.038,"b":22.447,"lo":21.769,"hi":22.305},
{"t":"5-yr event in WSA by 2094","p":32,"x":40,"r":21.895,"b":22.534,"lo":21.631,"hi":22.171},
{"t":"5-yr event in WSA by 2094","p":32,"x":45,"r":21.918,"b":22.429,"lo":21.677,"hi":22.16},
{"t":"5-yr event in WSA by 2094","p":32,"x":48,"r":21.925,"b":22.401,"lo":21.7,"hi":22.153},
{"t":"5-yr event in WSA by 2094","p":32,"hl":21.7,"hm":21.925,"hu":22.153,"v":48},
{"t":"10-yr event in WSA by 2094","p":33,"x":5,"r":23.11,"b":23.48,"lo":22.14,"hi":24.085},
{"t":"10-yr event in WSA by 2094","p":33,"x":10,"r":22.94,"b":22.985,"lo":22.5,"hi":23.526},
{"t":"10-yr event in WSA by 2094","p":33,"x":15,"r":22.87,"b":22.942,"lo":22.652,"hi":23.286},
{"t":"10-yr event in WSA by 2094","p":33,"x":20,"r":22.668,"b":23.211,"lo":22.3,"hi":23.033},
{"t":"10-yr event in WSA by 2094","p":33,"x":25,"r":22.734,"b":23.059,"lo":22.38,"hi":23.126},
{"t":"10-yr event in WSA by 2094","p":33,"x":30,"r":22.734,"b":22.942,"lo":22.428,"hi":23.046},
{"t":"10-yr event in WSA by 2094","p":33,"x":35,"r":22.955,"b":23.211,"lo":22.7,"hi":23.273},
{"t":"10-yr event in WSA by 2094","p":33,"x":40,"r":22.905,"b":23.254,"lo":22.633,"hi":23.201},
{"t":"10-yr event in WSA by 2094","p":33,"x":45,"r":22.886,"b":23.134,"lo":22.641,"hi":23.139},
{"t":"10-yr event in WSA by 2094","p":33,"x":48,"r":22.897,"b":23.169,"lo":22.668,"hi":23.122},
{"t":"10-yr event in WSA by 2094","p":33,"hl":22.668,"hm":22.897,"hu":23.122,"v":48},
{"t":"20-yr event in WSA by 2094","p":34,"x":5,"r":24.079,"b":24.043,"lo":22.762,"hi":25.397},
{"t":"20-yr event in WSA by 2094","p":34,"x":10,"r":23.773,"b":23.375,"lo":23.014,"hi":24.477},
{"t":"20-yr event in WSA by 2094","p":34,"x":15,"r":23.563,"b":23.48,"lo":23.094,"hi":24.043},
{"t":"20-yr event in WSA by 2094","p":34,"x":20,"r":23.401,"b":24.0,"lo":22.968,"hi":23.838},
{"t":"20-yr event in WSA by 2094","p":34,"x":25,"r":23.52,"b":23.769,"lo":23.105,"hi":23.946},
{"t":"20-yr event in WSA by 2094","p":34,"x":30,"r":23.498,"b":23.812,"lo":23.141,"hi":23.881},
{"t":"20-yr event in WSA by 2094","p":34,"x":35,"r":23.617,"b":23.603,"lo":23.303,"hi":23.899},
{"t":"20-yr event in WSA by 2094","p":34,"x":40,"r":23.653,"b":23.769,"lo":23.357,"hi":23.968},
{"t":"20-yr event in WSA by 2094","p":34,"x":45,"r":23.603,"b":23.755,"lo":23.339,"hi":23.881},
{"t":"20-yr event in WSA by 2094","p":34,"x":48,"r":23.61,"b":23.657,"lo":23.354,"hi":23.863},
{"t":"20-yr event in WSA by 2094","p":34,"hl":23.354,"hm":23.608,"hu":23.863,"v":48},
{"t":"50-yr event in WSA by 2094","p":35,"x":5,"r":25.113,"b":24.387,"lo":23.11,"hi":27.127},
{"t":"50-yr event in WSA by 2094","p":35,"x":10,"r":24.623,"b":24.414,"lo":23.55,"hi":25.696},
{"t":"50-yr event in WSA by 2094","p":35,"x":15,"r":24.233,"b":23.99,"lo":23.594,"hi":24.871},
{"t":"50-yr event in WSA by 2094","p":35,"x":20,"r":24.133,"b":24.238,"lo":23.55,"hi":24.706},
{"t":"50-yr event in WSA by 2094","p":35,"x":25,"r":24.309,"b":24.084,"lo":23.743,"hi":24.882},
{"t":"50-yr event in WSA by 2094","p":35,"x":30,"r":24.265,"b":24.161,"lo":23.759,"hi":24.772},
{"t":"50-yr event in WSA by 2094","p":35,"x":35,"r":24.221,"b":24.117,"lo":23.853,"hi":24.568},
{"t":"50-yr event in WSA by 2094","p":35,"x":40,"r":24.376,"b":24.161,"lo":23.963,"hi":24.788},
{"t":"50-yr event in WSA by 2094","p":35,"x":45,"r":24.282,"b":24.117,"lo":23.935,"hi":24.651},
{"t":"50-yr event in WSA by 2094","p":35,"x":48,"r":24.293,"b":24.117,"lo":23.963,"hi":24.623},
{"t":"50-yr event in WSA by 2094","p":35,"hl":23.963,"hm":24.293,"hu":24.623,"v":48},
{"t":"100-yr event in WSA by 2094","p":36,"x":5,"r":25.77,"b":24.388,"lo":23.151,"hi":28.403},
{"t":"100-yr event in WSA by 2094","p":36,"x":10,"r":25.137,"b":24.417,"lo":23.763,"hi":26.568},
{"t":"100-yr event in WSA by 2094","p":36,"x":15,"r":24.612,"b":24.05,"lo":23.835,"hi":25.396},
{"t":"100-yr event in WSA by 2094","p":36,"x":20,"r":24.554,"b":24.41,"lo":23.835,"hi":25.273},
{"t":"100-yr event in WSA by 2094","p":36,"x":25,"r":24.777,"b":24.41,"lo":24.086,"hi":25.489},
{"t":"100-yr event in WSA by 2094","p":36,"x":30,"r":24.719,"b":24.417,"lo":24.086,"hi":25.345},
{"t":"100-yr event in WSA by 2094","p":36,"x":35,"r":24.54,"b":24.417,"lo":24.101,"hi":24.971},
{"t":"100-yr event in WSA by 2094","p":36,"x":40,"r":24.791,"b":24.46,"lo":24.302,"hi":25.309},
{"t":"100-yr event in WSA by 2094","p":36,"x":45,"r":24.669,"b":24.41,"lo":24.252,"hi":25.108},
{"t":"100-yr event in WSA by 2094","p":36,"x":48,"r":24.676,"b":24.41,"lo":24.281,"hi":25.072},
{"t":"100-yr event in WSA by 2094","p":36,"hl":24.281,"hm":24.68,"hu":25.072,"v":48}
]
},
"spacing": 22,
"vconcat": [
{
  "data": {"name": "csa"},
  "facet": {"field": "t", "type": "nominal", "sort": {"field": "p", "op": "min"}, "title": null},
  "columns": 6,
  "spacing": {"row": 54.5, "column": 54.4},
  "bounds": "flush",
  "resolve": {"scale": {"y": "independent"}, "axis": {"x": "independent"}},
  "spec": {
    "width": 208, "height": 261,
    "layer": [
      {"transform": [{"filter": "isValid(datum.lo)"}],
       "mark": {"type": "area", "color": "#ff0000", "opacity": 0.16},
       "encoding": {
         "x": {"field": "x", "type": "quantitative", "scale": {"domain": [3.28, 49.72], "nice": false, "zero": false}, "axis": {"values": [10, 20, 30, 40], "title": "Ensemble Size"}},
         "y": {"field": "lo", "type": "quantitative", "scale": {"zero": false, "nice": false, "padding": 9.7}, "title": "°C", "axis": {"tickCount": {"expr": "span(domain('concat_0_child_y')) / (span(domain('concat_0_child_y')) < 1.55 ? 0.2 : (span(domain('concat_0_child_y')) < 3.9 ? 0.5 : 1))"}}},
         "y2": {"field": "hi"}}},
      {"transform": [{"filter": "isValid(datum.hm)"}], "mark": {"type": "rule", "color": "#ff0000", "opacity": 0.5, "strokeWidth": 1.2}, "encoding": {"y": {"field": "hl", "type": "quantitative", "title": "°C"}}},
      {"transform": [{"filter": "isValid(datum.hm)"}], "mark": {"type": "rule", "color": "#ff0000", "opacity": 0.5, "strokeWidth": 1.2}, "encoding": {"y": {"field": "hm", "type": "quantitative", "title": "°C"}}},
      {"transform": [{"filter": "isValid(datum.hm)"}], "mark": {"type": "rule", "color": "#ff0000", "opacity": 0.5, "strokeWidth": 1.2}, "encoding": {"y": {"field": "hu", "type": "quantitative", "title": "°C"}}},
      {"transform": [{"filter": "isValid(datum.hm)"}], "mark": {"type": "rule", "color": "#cc0000", "opacity": 0.6, "strokeWidth": 1.2}, "encoding": {"x": {"field": "v", "type": "quantitative", "title": "Ensemble Size"}}},
      {"transform": [{"filter": "isValid(datum.r)"}], "mark": {"type": "point", "shape": "circle", "filled": true, "color": "#ff1a1a", "opacity": 1, "size": 24}, "encoding": {"x": {"field": "x", "type": "quantitative", "title": "Ensemble Size"}, "y": {"field": "r", "type": "quantitative", "title": "°C"}}},
      {"transform": [{"filter": "isValid(datum.b)"}], "mark": {"type": "point", "shape": "square", "filled": true, "color": "#0000ff", "opacity": 1, "size": 22}, "encoding": {"x": {"field": "x", "type": "quantitative", "title": "Ensemble Size"}, "y": {"field": "b", "type": "quantitative", "title": "°C"}}}
    ]
  }
},
{
  "data": {"name": "wsa"},
  "facet": {"field": "t", "type": "nominal", "sort": {"field": "p", "op": "min"}, "title": null},
  "columns": 6,
  "spacing": {"row": 54.5, "column": 54.4},
  "bounds": "flush",
  "resolve": {"scale": {"y": "independent"}, "axis": {"x": "independent"}},
  "spec": {
    "width": 208, "height": 261,
    "layer": [
      {"transform": [{"filter": "isValid(datum.lo)"}],
       "mark": {"type": "area", "color": "#ff0000", "opacity": 0.16},
       "encoding": {
         "x": {"field": "x", "type": "quantitative", "scale": {"domain": [3.28, 49.72], "nice": false, "zero": false}, "axis": {"values": [10, 20, 30, 40], "title": "Ensemble Size"}},
         "y": {"field": "lo", "type": "quantitative", "scale": {"zero": false, "nice": false, "padding": 9.7}, "title": "°C", "axis": {"tickCount": {"expr": "span(domain('concat_1_child_y')) / (span(domain('concat_1_child_y')) < 1.55 ? 0.2 : (span(domain('concat_1_child_y')) < 3.9 ? 0.5 : 1))"}}},
         "y2": {"field": "hi"}}},
      {"transform": [{"filter": "isValid(datum.hm)"}], "mark": {"type": "rule", "color": "#ff0000", "opacity": 0.5, "strokeWidth": 1.2}, "encoding": {"y": {"field": "hl", "type": "quantitative", "title": "°C"}}},
      {"transform": [{"filter": "isValid(datum.hm)"}], "mark": {"type": "rule", "color": "#ff0000", "opacity": 0.5, "strokeWidth": 1.2}, "encoding": {"y": {"field": "hm", "type": "quantitative", "title": "°C"}}},
      {"transform": [{"filter": "isValid(datum.hm)"}], "mark": {"type": "rule", "color": "#ff0000", "opacity": 0.5, "strokeWidth": 1.2}, "encoding": {"y": {"field": "hu", "type": "quantitative", "title": "°C"}}},
      {"transform": [{"filter": "isValid(datum.hm)"}], "mark": {"type": "rule", "color": "#cc0000", "opacity": 0.6, "strokeWidth": 1.2}, "encoding": {"x": {"field": "v", "type": "quantitative", "title": "Ensemble Size"}}},
      {"transform": [{"filter": "isValid(datum.r)"}], "mark": {"type": "point", "shape": "circle", "filled": true, "color": "#ff1a1a", "opacity": 1, "size": 24}, "encoding": {"x": {"field": "x", "type": "quantitative", "title": "Ensemble Size"}, "y": {"field": "r", "type": "quantitative", "title": "°C"}}},
      {"transform": [{"filter": "isValid(datum.b)"}], "mark": {"type": "point", "shape": "square", "filled": true, "color": "#0000ff", "opacity": 1, "size": 22}, "encoding": {"x": {"field": "x", "type": "quantitative", "title": "Ensemble Size"}, "y": {"field": "b", "type": "quantitative", "title": "°C"}}}
    ]
  }
}
]
}
